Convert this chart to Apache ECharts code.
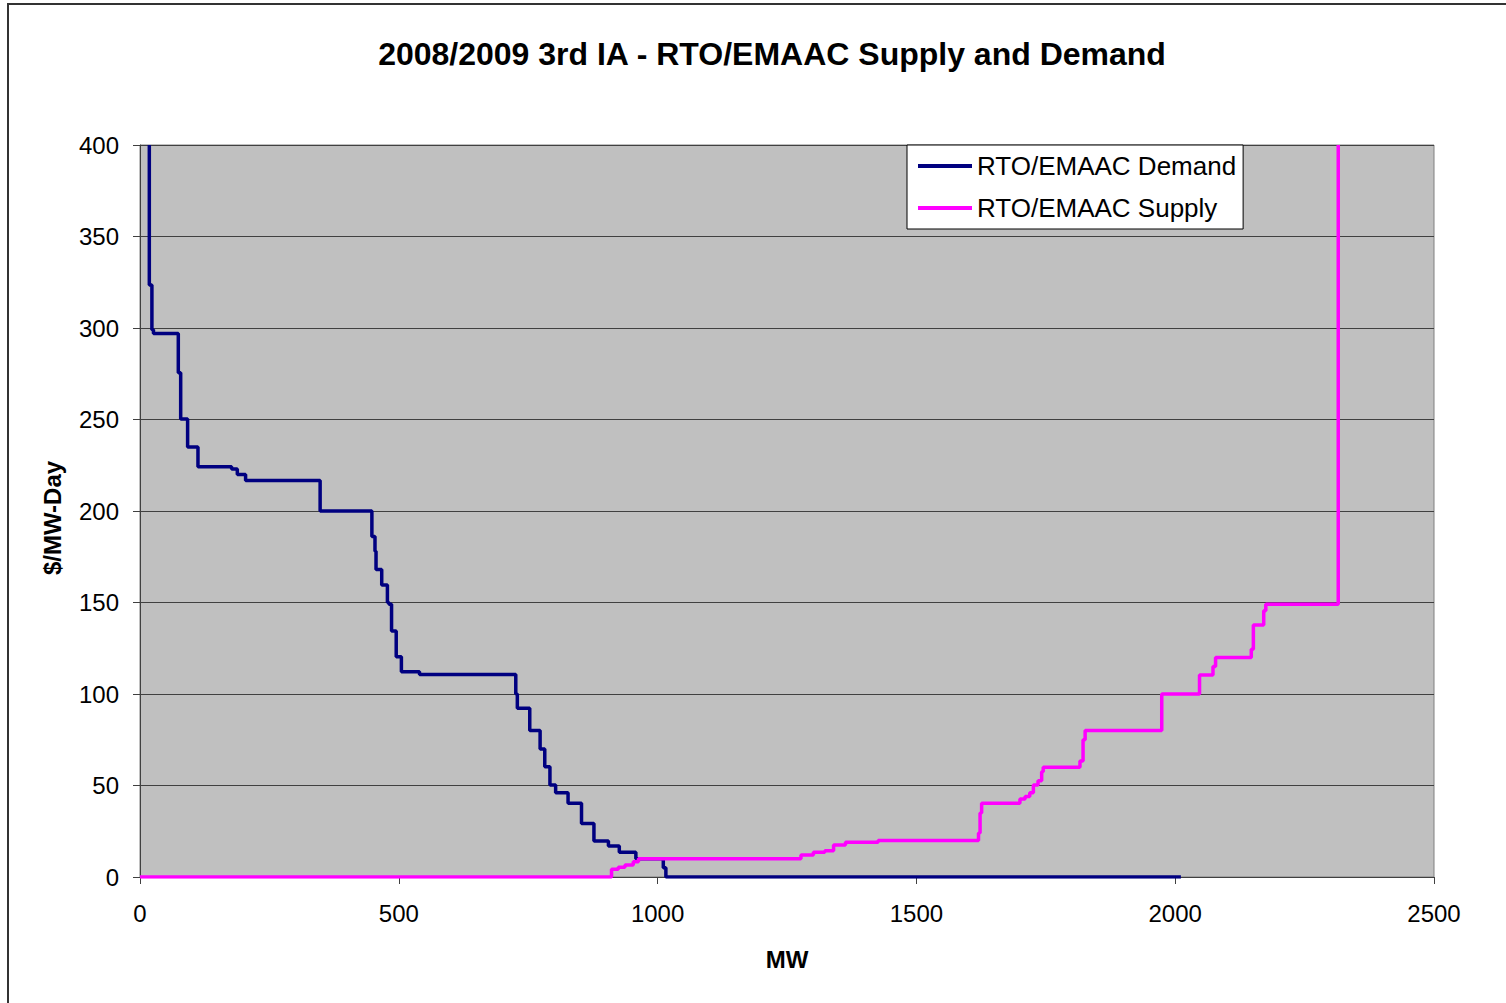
<!DOCTYPE html>
<html>
<head>
<meta charset="utf-8">
<script src="https://cdn.jsdelivr.net/npm/echarts@6/dist/echarts.min.js"></script>
<style>
  html, body { margin: 0; padding: 0; background: #fff; }
  #chart { width: 1506px; height: 1003px; }
</style>
</head>
<body>
<div id="chart"></div>
<script>
// step curves: each price level runs from its MW start to the next start
const demandMW    = [18, 18, 23, 26, 74, 78.6, 92, 112, 177, 188, 204, 348, 448, 454, 456, 467, 478, 481, 486, 495, 505, 540, 726, 729, 753, 773, 782, 792, 803, 827, 853, 877, 905, 926, 958, 1011, 1016, 2011];
const demandPrice = [400, 323.5, 299, 297, 275.6, 250.3, 235, 224.2, 223, 220, 216.6, 200, 186, 178, 168, 159.6, 150, 149, 134.4, 120.4, 112.2, 110.7, 100, 92.2, 80, 70, 60.3, 50.3, 46, 40.3, 29.3, 19.7, 17, 13.5, 10, 5, 0];

const supplyMW    = [0, 911, 924, 937, 953, 963, 1277, 1301, 1323, 1340, 1363, 1426, 1620, 1623, 1626, 1700, 1710, 1719, 1726, 1735, 1742, 1745, 1816, 1822, 1826, 1974, 2047, 2073, 2078, 2147, 2151, 2171, 2175, 2315, 2315];
const supplyPrice = [0, 4.2, 5.3, 6.5, 8.4, 10, 12, 13.5, 14.4, 17.5, 19, 20, 24, 35, 40.3, 42.6, 44, 46, 50.3, 52.6, 57.5, 60, 63.4, 75, 80, 100, 110.4, 115, 120, 124.4, 137.7, 145.5, 149, 400];

const xTicks = [0, 500, 1000, 1500, 2000, 2500];
const yTicks = [0, 50, 100, 150, 200, 250, 300, 350, 400];

function stepPoints(mw, price) {
  const pts = [];
  for (let i = 0; i < price.length; i++) {
    pts.push([mw[i], price[i]]);
    if (mw[i + 1] !== undefined) pts.push([mw[i + 1], price[i]]);
  }
  return pts;
}

const FONT = 'Liberation Sans, Arial, sans-serif';

const c = echarts.init(document.getElementById('chart'), null, { renderer: 'svg' });
c.setOption({
  animation: false,
  textStyle: { fontFamily: FONT, color: '#000' },
  title: {
    text: '2008/2009 3rd IA - RTO/EMAAC Supply and Demand',
    left: 767, top: 33, textAlign: 'center',
    textStyle: { fontFamily: FONT, fontSize: 32, fontWeight: 'bold', color: '#000' },
  },
  graphic: [{
    type: 'rect', silent: true, z: -1,
    shape: { x: 8, y: 4, width: 1520, height: 1020 },
    style: { fill: 'none', stroke: '#333', lineWidth: 2 },
  }],
  grid: {
    left: 140, right: 72, top: 145, bottom: 126,
    show: true, backgroundColor: '#C0C0C0', borderColor: '#808080', borderWidth: 1,
  },
  legend: {
    orient: 'vertical', left: 907, top: 145,
    backgroundColor: '#fff', borderColor: '#000', borderWidth: 1,
    padding: [7, 7, 7, 11], itemGap: 14,
    icon: 'rect', itemWidth: 54, itemHeight: 4, itemStyle: { borderWidth: 0 },
    textStyle: { fontFamily: FONT, fontSize: 26, color: '#000', lineHeight: 28 },
    data: ['RTO/EMAAC Demand', 'RTO/EMAAC Supply'],
  },
  xAxis: {
    type: 'value', min: 0, max: 2500, interval: 500,
    name: 'MW', nameLocation: 'middle', nameGap: 70,
    nameTextStyle: { fontFamily: FONT, fontSize: 24, fontWeight: 'bold', color: '#000' },
    axisLine: { onZero: false, lineStyle: { color: '#404040', width: 1 } },
    axisTick: { show: true, inside: false, length: 7, lineStyle: { color: '#404040' } },
    axisLabel: { fontFamily: FONT, fontSize: 24, color: '#000', margin: 24,
      customValues: xTicks, formatter: v => String(v) },
    splitLine: { show: false },
  },
  yAxis: {
    type: 'value', min: 0, max: 400, interval: 50,
    name: '$/MW-Day', nameLocation: 'middle', nameGap: 76,
    nameTextStyle: { fontFamily: FONT, fontSize: 24, fontWeight: 'bold', color: '#000', padding: [0, 14, 0, 0] },
    axisLine: { show: true, lineStyle: { color: '#404040', width: 1 } },
    axisTick: { show: true, length: 7, lineStyle: { color: '#404040' } },
    axisLabel: { fontFamily: FONT, fontSize: 24, color: '#000', margin: 21,
      customValues: yTicks, formatter: v => String(v) },
    splitLine: { show: true, lineStyle: { color: '#404040', width: 1 } },
  },
  series: [
    {
      name: 'RTO/EMAAC Demand', type: 'line', showSymbol: false, symbol: 'none',
      data: stepPoints(demandMW, demandPrice),
      lineStyle: { color: '#000080', width: 3.5 }, itemStyle: { color: '#000080' },
      clip: true,
    },
    {
      name: 'RTO/EMAAC Supply', type: 'line', showSymbol: false, symbol: 'none',
      data: stepPoints(supplyMW, supplyPrice),
      lineStyle: { color: '#FF00FF', width: 3.5 }, itemStyle: { color: '#FF00FF' },
      clip: true,
    },
  ],
});
</script>
</body>
</html>
